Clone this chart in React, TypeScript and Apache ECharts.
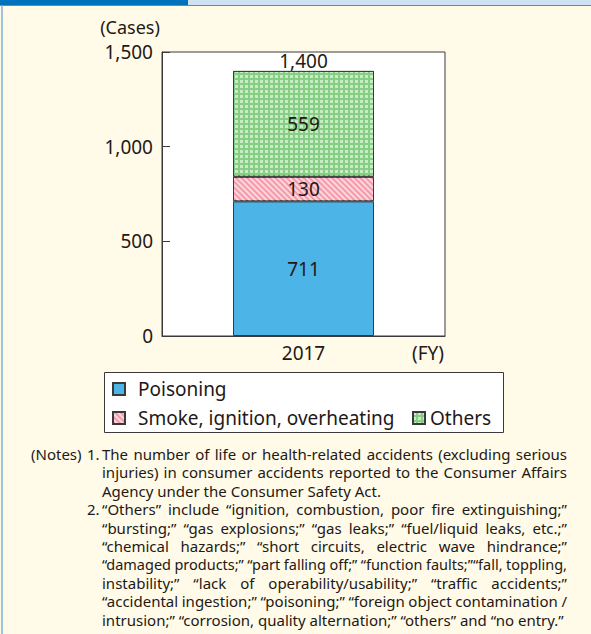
import React, { useEffect, useRef } from 'react';
import * as echarts from 'echarts';

// ---------- data ----------
const categories = ['2017'];
const seriesNames = ['Poisoning', 'Smoke, ignition, overheating', 'Others'];
const poisoning = [711];
const smoke = [130];
const others = [559];
const yMin = 0;
const yMax = 1500;
const yInterval = 500;
const yAxisName = '(Cases)';
const xAxisName = '(FY)';

const notesLabel = '(Notes)';
const noteNumbers = ['1.', '2.'];
const note1Lines = [
  'The number of life or health-related accidents (excluding serious',
  'injuries) in consumer accidents reported to the Consumer Affairs',
  'Agency under the Consumer Safety Act.',
];
const note2Lines = [
  '\u201COthers\u201D include \u201Cignition, combustion, poor fire extinguishing;\u201D',
  '\u201Cbursting;\u201D \u201Cgas explosions;\u201D \u201Cgas leaks;\u201D \u201Cfuel/liquid leaks, etc.;\u201D',
  '\u201Cchemical hazards;\u201D \u201Cshort circuits, electric wave hindrance;\u201D',
  '\u201Cdamaged products;\u201D \u201Cpart falling off;\u201D \u201Cfunction faults;\u201D\u201Cfall, toppling,',
  'instability;\u201D \u201Clack of operability/usability;\u201D \u201Ctraffic accidents;\u201D',
  '\u201Caccidental ingestion;\u201D \u201Cpoisoning;\u201D \u201Cforeign object contamination /',
  'intrusion;\u201D \u201Ccorrosion, quality alternation;\u201D \u201Cothers\u201D and \u201Cno entry.\u201D',
];

// ---------- styles ----------
const FONT = '"Noto Sans", "Open Sans", sans-serif';
const TEXT = '#231815';
const EDGE = '#3a3a3a';
const BLUE = '#4cb4e6';
const PINK = '#f59aab';
const PINK_LIGHT = '#fcd6dd';
const GREEN = '#86cd86';
const GREEN_LIGHT = '#c9ebc5';
const FS = 19;

export default function App() {
  const ref = useRef<HTMLDivElement>(null);

  useEffect(() => {
    document.body.style.margin = '0';
    const chart = echarts.init(ref.current!, null, { renderer: 'svg' });

    const totals = categories.map((_, i) => poisoning[i] + smoke[i] + others[i]);

    // notes layout (justified by word spacing)
    const canvas = document.createElement('canvas');
    const ctx = canvas.getContext('2d')!;
    const NOTE_FS = 15;
    const NOTE_X = 102;
    const NOTE_RIGHT = 567;
    const NOTE_Y0 = 454;
    const NOTE_LH = 18.4;
    const MIN_GAP = 3.5;
    const mkStyle = (fs: number) => ({ fill: TEXT, fontSize: fs, fontFamily: FONT, textVerticalAlign: 'middle' });
    const noteEls: any[] = [];
    const allLines: { text: string; justify: boolean }[] = [];
    note1Lines.forEach((t, i) => allLines.push({ text: t, justify: i < note1Lines.length - 1 }));
    note2Lines.forEach((t, i) => allLines.push({ text: t, justify: i < note2Lines.length - 1 }));
    const avail = NOTE_RIGHT - NOTE_X;
    allLines.forEach((ln, li) => {
      const y = NOTE_Y0 + li * NOTE_LH;
      if (!ln.justify) {
        noteEls.push({ type: 'text', x: NOTE_X, y, style: { ...mkStyle(NOTE_FS), text: ln.text } });
        return;
      }
      const words = ln.text.split(' ');
      let fs = NOTE_FS;
      ctx.font = `${fs}px "Noto Sans"`;
      let widths = words.map((w) => ctx.measureText(w).width);
      let sum = widths.reduce((a, b) => a + b, 0);
      const need = sum + MIN_GAP * (words.length - 1);
      if (need > avail) {
        fs = (NOTE_FS * (avail - MIN_GAP * (words.length - 1))) / sum;
        ctx.font = `${fs}px "Noto Sans"`;
        widths = words.map((w) => ctx.measureText(w).width);
        sum = widths.reduce((a, b) => a + b, 0);
      }
      const gap = (avail - sum) / Math.max(1, words.length - 1);
      let x = NOTE_X;
      words.forEach((w, wi) => {
        noteEls.push({ type: 'text', x, y, style: { ...mkStyle(fs), text: w } });
        x += widths[wi] + gap;
      });
    });
    noteEls.push({ type: 'text', x: 31, y: NOTE_Y0, style: { ...mkStyle(NOTE_FS), text: notesLabel } });
    noteEls.push({ type: 'text', x: 87, y: NOTE_Y0, style: { ...mkStyle(NOTE_FS), text: noteNumbers[0] } });
    noteEls.push({
      type: 'text',
      x: 87,
      y: NOTE_Y0 + note1Lines.length * NOTE_LH,
      style: { ...mkStyle(NOTE_FS), text: noteNumbers[1] },
    });

    const segLabel = { show: true, position: 'inside', fontSize: FS, color: TEXT, fontFamily: FONT };
    const legendText = { fontSize: FS, color: TEXT, fontFamily: FONT, lineHeight: 20 };
    const legendBase = {
      padding: 0,
      itemWidth: 12,
      itemHeight: 12,
      icon: 'rect',
      selectedMode: false,
    };

    chart.setOption({
      animation: false,
      backgroundColor: '#fffbe8',
      textStyle: { fontFamily: FONT },
      grid: {
        left: 162,
        right: 146,
        top: 52,
        bottom: 298,
        show: true,
        backgroundColor: '#ffffff',
        borderColor: EDGE,
        borderWidth: 1,
      },
      legend: [
        {
          ...legendBase,
          data: [seriesNames[0]],
          left: 112,
          top: 379,
          textStyle: { ...legendText, padding: [0, 0, 0, 8] },
        },
        {
          ...legendBase,
          data: [seriesNames[1]],
          left: 112,
          top: 408,
          textStyle: { ...legendText, padding: [0, 0, 0, 8] },
        },
        {
          ...legendBase,
          data: [seriesNames[2]],
          left: 412,
          top: 408,
          textStyle: legendText,
        },
      ],
      xAxis: {
        type: 'category',
        data: categories,
        axisLine: { lineStyle: { color: EDGE, width: 1 } },
        axisTick: { show: false },
        axisLabel: { fontSize: FS, color: TEXT, margin: 7, fontFamily: FONT },
      },
      yAxis: {
        type: 'value',
        min: yMin,
        max: yMax,
        interval: yInterval,
        axisLine: { show: true, lineStyle: { color: EDGE, width: 1 } },
        axisTick: { show: true, inside: true, length: 8, lineStyle: { color: EDGE } },
        splitLine: { show: false },
        axisLabel: {
          fontSize: FS,
          lineHeight: 19,
          color: TEXT,
          margin: 9,
          fontFamily: FONT,
          formatter: (v: number) => v.toLocaleString('en-US'),
        },
      },
      series: [
        {
          name: seriesNames[0],
          type: 'bar',
          stack: 'total',
          barWidth: 141,
          data: poisoning,
          itemStyle: { color: BLUE, borderColor: EDGE, borderWidth: 1 },
          label: segLabel,
        },
        {
          name: seriesNames[1],
          type: 'bar',
          stack: 'total',
          barWidth: 141,
          data: smoke,
          itemStyle: {
            color: PINK,
            borderColor: EDGE,
            borderWidth: 1,
            decal: {
              symbol: 'rect',
              symbolSize: 1,
              dashArrayX: [1, 0],
              dashArrayY: [2, 2],
              rotation: Math.PI / 4,
              color: PINK_LIGHT,
            },
          },
          label: segLabel,
        },
        {
          name: seriesNames[2],
          type: 'bar',
          stack: 'total',
          barWidth: 141,
          data: others,
          itemStyle: {
            color: GREEN,
            borderColor: EDGE,
            borderWidth: 1,
            decal: {
              symbol: 'rect',
              symbolSize: 1,
              dashArrayX: [2.5, 2],
              dashArrayY: [2.5, 2],
              color: GREEN_LIGHT,
            },
          },
          label: segLabel,
        },
        {
          name: 'total',
          type: 'bar',
          stack: 'total',
          barWidth: 141,
          data: categories.map(() => 0),
          silent: true,
          itemStyle: { color: 'rgba(0,0,0,0)', borderWidth: 0 },
          label: {
            show: true,
            position: 'top',
            distance: 0,
            fontSize: FS,
            color: TEXT,
            fontFamily: FONT,
            formatter: (p: any) => totals[p.dataIndex].toLocaleString('en-US'),
          },
        },
      ],
      graphic: [
        // header band
        { type: 'rect', shape: { x: 0, y: 0, width: 591, height: 5 }, style: { fill: '#cfe2f3' }, z: 10 },
        { type: 'rect', shape: { x: 0, y: 0, width: 188, height: 5 }, style: { fill: '#0071bc' }, z: 11 },
        { type: 'line', shape: { x1: 0, y1: 5.5, x2: 591, y2: 5.5 }, style: { stroke: '#4f8fc6', lineWidth: 1 }, z: 11 },
        { type: 'line', shape: { x1: 2, y1: 5, x2: 2, y2: 634 }, style: { stroke: '#7fb0dd', lineWidth: 1.5 }, z: 11 },
        // axis names
        {
          type: 'text',
          x: 130,
          y: 27,
          style: {
            text: yAxisName,
            fill: TEXT,
            fontSize: 18,
            lineHeight: 18,
            fontFamily: FONT,
            textAlign: 'center',
            textVerticalAlign: 'middle',
          },
        },
        {
          type: 'text',
          x: 428,
          y: 353,
          style: { text: xAxisName, fill: TEXT, fontSize: FS, fontFamily: FONT, textAlign: 'center', textVerticalAlign: 'middle' },
        },
        // legend box
        {
          type: 'rect',
          z: 0,
          shape: { x: 104.5, y: 372.5, width: 399, height: 60 },
          style: { fill: '#ffffff', stroke: EDGE, lineWidth: 1 },
        },
        ...noteEls,
      ],
    });

    return () => chart.dispose();
  }, []);

  return <div ref={ref} style={{ width: 591, height: 634 }} />;
}
